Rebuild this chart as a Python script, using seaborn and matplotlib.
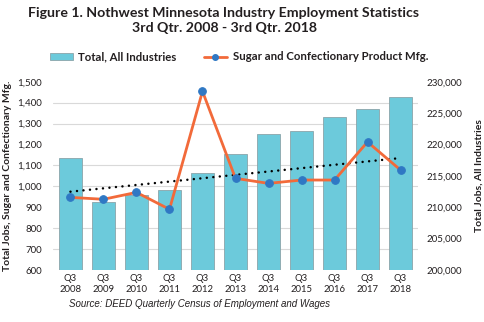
import numpy as np
import pandas as pd
import matplotlib
matplotlib.use("Agg")
import matplotlib.pyplot as plt
import seaborn as sns
from matplotlib.patches import Patch
from matplotlib.lines import Line2D

quarters = ["Q3\n2008", "Q3\n2009", "Q3\n2010", "Q3\n2011", "Q3\n2012", "Q3\n2013",
            "Q3\n2014", "Q3\n2015", "Q3\n2016", "Q3\n2017", "Q3\n2018"]
total_all = [217900, 210900, 212000, 212800, 215500, 218500, 221600, 222100, 224400, 225700, 227600]
sugar = [947, 938, 971, 890, 1454, 1038, 1014, 1030, 1030, 1212, 1078]
left_ticks = [600, 700, 800, 900, 1000, 1100, 1200, 1300, 1400, 1500]
right_ticks = [200000, 205000, 210000, 215000, 220000, 225000, 230000]

sns.set_theme(style="white")
plt.rcParams['font.family'] = ['Lato', 'DejaVu Sans']

BAR = "#6CCADB"
BAR_EDGE = "#8AA4AA"
LINE = "#F26A3A"
MARK = "#2F78C4"
TXT = "#231F20"

fig = plt.figure(figsize=(4.84, 3.22), dpi=100)
W, H = 484, 322
ax = fig.add_axes([53 / W, 1 - 270 / H, (418 - 53) / W, (270 - 81.7) / H])
ax2 = ax.twinx()

df = pd.DataFrame({"q": quarters, "total": total_all, "sugar": sugar,
                   "idx": np.arange(len(quarters))})

# bars (right axis scale)
sns.barplot(data=df, x="q", y="total", ax=ax, color=BAR, edgecolor=BAR_EDGE,
            linewidth=0.6, width=0.68, saturation=1, zorder=2)
ax.set_ylim(right_ticks[0], right_ticks[-1])
ax.set_xlim(-0.53, len(quarters) - 1 + 0.53)
ax.set_yticks(right_ticks)
ax.set_yticklabels([f"{v:,}" for v in right_ticks])
lo, hi = left_ticks[0], left_ticks[-1]
grid_pos = [right_ticks[0] + (v - lo) / (hi - lo) * (right_ticks[-1] - right_ticks[0]) for v in left_ticks]
ax.set_yticks(grid_pos, minor=True)
ax.grid(False)
ax.grid(which="minor", axis="y", color="#D9D9D9", linewidth=0.8)
ax.set_axisbelow(True)
ax.yaxis.tick_right()
ax.yaxis.set_label_position("right")
ax.tick_params(axis="y", which="both", length=0, labelsize=7, labelcolor=TXT, pad=6,
               labelleft=False, labelright=True)
ax.tick_params(axis="y", which="minor", labelright=False)
ax.tick_params(axis="x", length=0, labelsize=6.8, labelcolor=TXT, pad=3)
ax.set_xlabel("")
ax.set_ylabel("Total Jobs, All Industries", fontsize=7.5, fontweight="bold", color=TXT,
              rotation=90, labelpad=9)
for s in ax.spines.values():
    s.set_visible(False)

# line (left axis scale)
sns.regplot(data=df, x="idx", y="sugar", ax=ax2, scatter=False, ci=None, truncate=True,
            line_kws=dict(color="black", lw=1.8, linestyle=(0, (0.01, 2.6)),
                          dash_capstyle="round"))
sns.lineplot(data=df, x="idx", y="sugar", ax=ax2, color=LINE, lw=2, marker="o",
             markersize=5.5, markerfacecolor=MARK, markeredgecolor=MARK)
ax2.set_ylim(lo, hi)
ax2.set_xlim(-0.53, len(quarters) - 1 + 0.53)
ax2.set_yticks(left_ticks)
ax2.set_yticklabels([f"{v:,}" for v in left_ticks])
ax2.yaxis.tick_left()
ax2.yaxis.set_label_position("left")
ax2.tick_params(axis="y", length=0, labelsize=7, labelcolor=TXT, pad=8,
                labelleft=True, labelright=False)
ax2.set_xlabel("")
ax2.set_ylabel("Total Jobs, Sugar and Confectionary Mfg.", fontsize=7.5, fontweight="bold",
               color=TXT, labelpad=4)
ax2.grid(False)
for s in ax2.spines.values():
    s.set_visible(False)

fig.text(224 / W, 1 - 13 / H, "Figure 1. Nothwest Minnesota Industry Employment Statistics",
         ha="center", va="center", fontsize=10.2, fontweight="bold", color=TXT)
fig.text(224 / W, 1 - 28 / H, "3rd Qtr. 2008 - 3rd Qtr. 2018",
         ha="center", va="center", fontsize=10.2, fontweight="bold", color=TXT)

handles = [Patch(facecolor=BAR, edgecolor=BAR_EDGE, linewidth=0.6),
           Line2D([0], [0], color=LINE, lw=2, marker="o", markersize=4,
                  markerfacecolor=MARK, markeredgecolor=MARK)]
leg = fig.legend(handles, ["Total, All Industries", "Sugar and Confectionary Product Mfg."],
                 loc="center", bbox_to_anchor=(239 / W, 1 - 57 / H), ncol=2, frameon=False,
                 prop=dict(size=8.2, weight="bold"), handlelength=2.0, handleheight=0.45,
                 columnspacing=2.4, handletextpad=0.5)
for t in leg.get_texts():
    t.set_color(TXT)

fig.text(69 / W, 1 - 304 / H, "Source: DEED Quarterly Census of Employment and Wages",
         ha="left", va="center", fontsize=7, style="italic", color=TXT,
         family=["Liberation Sans", "DejaVu Sans"])

fig.savefig("out.png", dpi=100)
